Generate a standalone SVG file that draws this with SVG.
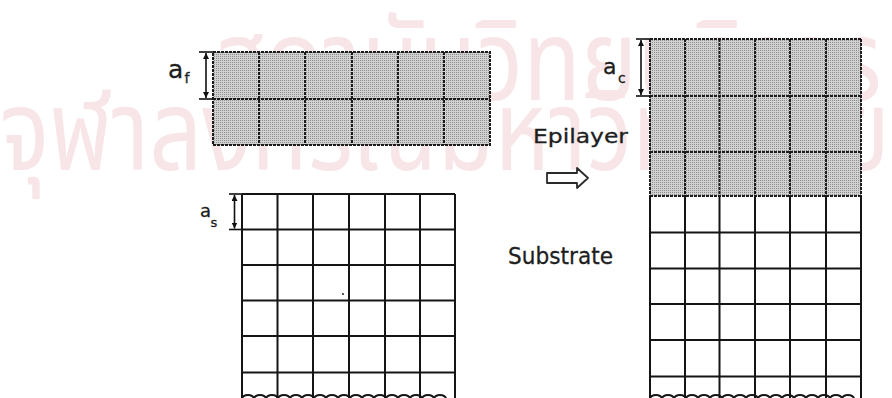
<svg xmlns="http://www.w3.org/2000/svg" width="892" height="398" viewBox="0 0 892 398">
<defs>
<pattern id="stipple" width="2" height="2" patternUnits="userSpaceOnUse">
<rect width="2" height="2" fill="#d2d2d2"/>
<rect width="1" height="1" fill="#8e8e8e"/>
</pattern>
<marker id="ah" viewBox="0 0 6 6" refX="6" refY="3" markerWidth="6" markerHeight="6" orient="auto-start-reverse" markerUnits="userSpaceOnUse">
<path d="M0,0 L6,3 L0,6 Z" fill="#111"/>
</marker>
</defs>
<style>
.wm{font-family:"Noto Sans Thai","Noto Sans","DejaVu Sans",sans-serif;fill:#f8e5e8}
.shade{fill:url(#stipple)}
.gs{stroke:#1c1c1c;stroke-width:2;stroke-dasharray:3 1;fill:none}
.g{stroke:#151515;stroke-width:2;fill:none}
.lbl{font-family:"DejaVu Sans",sans-serif;fill:#1e1e1e;stroke:#1e1e1e;stroke-width:0.3}
.dim{stroke:#111;stroke-width:1.6;fill:none}
.tick{stroke:#111;stroke-width:1.6}
</style>
<rect width="892" height="398" fill="#fff"/>
<g id="watermark">
<text class="wm" x="212" y="100" font-size="112" textLength="670" lengthAdjust="spacingAndGlyphs">สถาบันวิทยบริการ</text>
<text class="wm" x="0" y="170" font-size="112" textLength="890" lengthAdjust="spacingAndGlyphs">จุฬาลงกรณ์มหาวิทยาลัย</text>
</g>
<g id="film">
<rect class="shade" x="213" y="52" width="277" height="93"/>
<path class="gs" d="M213,52 H490 V145 H213 Z M213,99 H490 M259,52 V145 M305,52 V145 M352,52 V145 M398,52 V145 M444,52 V145"/>
</g>
<g id="substrate">
<path class="g" d="M242,194 H455 M242,229.5 H455 M242,265 H455 M242,300.5 H455 M242,336 H455 M242,372.5 H455 M242,194 V398 M277.5,194 V398 M313,194 V398 M349,194 V398 M385,194 V398 M420,194 V398 M455,194 V398"/>
<path class="g" stroke-width="1.6" d="M242,399 a6,4 0 0 1 12,0 a6,4 0 0 1 12,0 a6,4 0 0 1 12,0 a6,4 0 0 1 12,0 a6,4 0 0 1 12,0 a6,4 0 0 1 12,0 a6,4 0 0 1 12,0 a6,4 0 0 1 12,0 a6,4 0 0 1 12,0 a6,4 0 0 1 12,0 a6,4 0 0 1 12,0 a6,4 0 0 1 12,0 a6,4 0 0 1 12,0 a6,4 0 0 1 12,0 a6,4 0 0 1 12,0 a6,4 0 0 1 12,0 a6,4 0 0 1 12,0"/>
<circle cx="343" cy="294" r="1.1" fill="#333"/>
</g>
<g id="composite">
<rect class="shade" x="650" y="39" width="211" height="157"/>
<path class="gs" d="M650,39 H861 M650,96 H861 M650,152 H861 M650,196 H861 M650,39 V196 M685,39 V196 M719.5,39 V196 M755,39 V196 M790,39 V196 M826,39 V196 M861,39 V196"/>
<path class="g" d="M650,232.5 H861 M650,268.5 H861 M650,304 H861 M650,340 H861 M650,376.5 H861 M650,196 V398 M685,196 V398 M719.5,196 V398 M755,196 V398 M790,196 V398 M826,196 V398 M861,196 V398"/>
<path class="g" stroke-width="1.6" d="M650,399 a6,4 0 0 1 12,0 a6,4 0 0 1 12,0 a6,4 0 0 1 12,0 a6,4 0 0 1 12,0 a6,4 0 0 1 12,0 a6,4 0 0 1 12,0 a6,4 0 0 1 12,0 a6,4 0 0 1 12,0 a6,4 0 0 1 12,0 a6,4 0 0 1 12,0 a6,4 0 0 1 12,0 a6,4 0 0 1 12,0 a6,4 0 0 1 12,0 a6,4 0 0 1 12,0 a6,4 0 0 1 12,0 a6,4 0 0 1 12,0 a6,4 0 0 1 12,0"/>
</g>
<g id="dimensions">
<line class="tick" x1="199" y1="52" x2="213" y2="52"/>
<line class="tick" x1="199" y1="99" x2="213" y2="99"/>
<line class="dim" x1="206" y1="53" x2="206" y2="98" marker-start="url(#ah)" marker-end="url(#ah)"/>
<line class="tick" x1="229" y1="194" x2="242" y2="194"/>
<line class="tick" x1="229" y1="229.5" x2="242" y2="229.5"/>
<line class="dim" x1="234.5" y1="195" x2="234.5" y2="228.5" marker-start="url(#ah)" marker-end="url(#ah)"/>
<line class="tick" x1="636" y1="39" x2="650" y2="39"/>
<line class="tick" x1="636" y1="96" x2="650" y2="96"/>
<line class="dim" x1="641" y1="40" x2="641" y2="95" marker-start="url(#ah)" marker-end="url(#ah)"/>
</g>
<g id="labels">
<text class="lbl" x="168" y="78" font-size="25">a</text>
<text class="lbl" x="184.5" y="83" font-size="14">f</text>
<text class="lbl" x="200" y="217" font-size="18">a</text>
<text class="lbl" x="210.5" y="227" font-size="13">s</text>
<text class="lbl" x="603" y="74" font-size="22">a</text>
<text class="lbl" x="618" y="83" font-size="14">c</text>
<text class="lbl" x="533" y="143" font-size="20" textLength="95" lengthAdjust="spacingAndGlyphs">Epilayer</text>
<text class="lbl" x="508" y="264" font-size="23" textLength="105" lengthAdjust="spacingAndGlyphs">Substrate</text>
</g>
<g id="arrow">
<path d="M547,173 H577 V168 L588,178 L577,188 V183 H547 Z" fill="#fff" stroke="#2a2a2a" stroke-width="1.8" stroke-linejoin="round"/>
</g>
</svg>
